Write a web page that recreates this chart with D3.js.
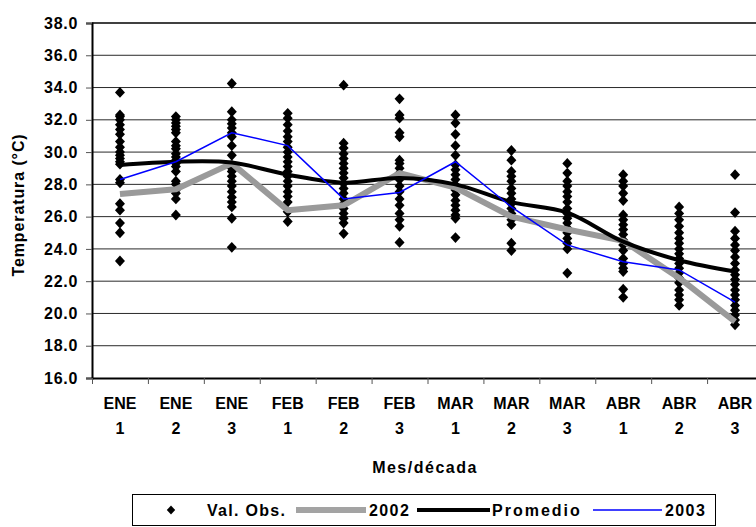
<!DOCTYPE html>
<html>
<head>
<meta charset="utf-8">
<script src="https://cdn.jsdelivr.net/npm/d3@7"></script>
<style>
  html, body { margin: 0; padding: 0; background: #fff; }
  svg { display: block; font-family: "Liberation Sans", Arial, sans-serif; font-weight: bold; }
</style>
</head>
<body>
<svg id="chart" width="756" height="527"></svg>
<script>
// Ten-day periods (month / décade)
const months = ["ENE", "ENE", "ENE", "FEB", "FEB", "FEB", "MAR", "MAR", "MAR", "ABR", "ABR", "ABR"];
const decades = ["1", "2", "3", "1", "2", "3", "1", "2", "3", "1", "2", "3"];

// Mean temperature per period, °C
const serie2002 = [27.4, 27.7, 29.3, 26.4, 26.7, 28.7, 27.8, 26.0, 25.2, 24.5, 22.2, 19.5];
const promedio = [29.2, 29.4, 29.35, 28.6, 28.1, 28.4, 28.0, 26.9, 26.25, 24.45, 23.3, 22.6];
const serie2003 = [28.3, 29.4, 31.2, 30.4, 27.1, 27.5, 29.4, 26.6, 24.25, 23.2, 22.7, 20.7];

// Observed values (all years) per period, °C
const valObs = [
  [33.7, 32.3, 32.2, 32.0, 31.7, 31.4, 31.1, 30.65, 30.3, 30.0, 29.8, 29.6, 29.4, 29.25, 28.3, 28.1, 26.8, 26.4, 25.6, 25.0, 23.25],
  [32.2, 32.0, 31.8, 31.6, 31.4, 31.2, 30.65, 30.4, 30.2, 29.9, 29.7, 29.5, 29.3, 29.1, 28.8, 28.2, 28.0, 27.65, 27.45, 27.1, 26.1],
  [34.25, 32.5, 32.0, 31.75, 31.5, 31.2, 30.95, 30.4, 29.8, 29.2, 29.0, 28.8, 28.5, 28.2, 27.9, 27.55, 27.2, 26.9, 26.6, 25.9, 24.1],
  [32.4, 32.1, 31.7, 31.3, 30.95, 30.65, 30.3, 30.0, 29.7, 29.4, 29.1, 28.8, 28.5, 28.2, 27.9, 27.55, 27.25, 26.9, 26.3, 25.7],
  [34.15, 30.55, 30.25, 29.9, 29.6, 29.3, 29.0, 28.7, 28.4, 28.05, 27.75, 27.45, 27.1, 26.8, 26.5, 26.2, 25.9, 25.6, 24.95],
  [33.3, 32.3, 32.1, 31.2, 30.95, 29.5, 29.3, 29.0, 28.7, 28.3, 27.9, 27.55, 27.1, 26.7, 26.2, 25.8, 25.4, 24.4],
  [32.3, 31.8, 31.1, 30.4, 29.8, 29.2, 28.9, 28.6, 28.3, 27.95, 27.65, 27.35, 27.0, 26.7, 26.4, 26.1, 25.9, 24.7],
  [30.1, 29.5, 28.8, 28.5, 28.2, 27.75, 27.45, 27.1, 26.8, 26.5, 26.2, 25.8, 25.5, 24.35, 23.9],
  [29.3, 28.7, 28.2, 27.9, 27.55, 27.25, 26.9, 26.5, 26.2, 25.9, 25.6, 25.3, 25.0, 24.65, 24.35, 24.0, 22.5],
  [28.6, 28.2, 27.9, 27.45, 27.0, 26.1, 25.8, 25.5, 25.2, 24.9, 24.55, 24.25, 23.9, 23.4, 23.1, 22.8, 22.6, 21.5, 21.0],
  [26.6, 26.2, 25.8, 25.4, 25.0, 24.65, 24.35, 24.0, 23.7, 23.4, 23.1, 22.8, 22.5, 22.2, 21.9, 21.45, 21.15, 20.85, 20.5],
  [28.6, 26.25, 25.1, 24.65, 24.25, 23.9, 23.5, 23.1, 22.7, 22.4, 22.1, 21.8, 21.45, 21.15, 20.85, 20.5, 20.2, 19.9, 19.6, 19.3]
];

const yTicks = [16, 18, 20, 22, 24, 26, 28, 30, 32, 34, 36, 38];

const svg = d3.select("#chart");
const W = 756;
const plot = { left: 92, right: 763, top: 23, bottom: 378 };
const keys = months.map((m, i) => i);

const x = d3.scaleBand().domain(keys).range([plot.left, plot.right]).paddingInner(0).paddingOuter(0);
const xEdge = d3.scaleLinear().domain([0, keys.length]).range([plot.left, plot.right]);
const y = d3.scaleLinear().domain([16, 38]).range([plot.bottom, plot.top]);
const cx = i => x(i) + x.bandwidth() / 2;

// Horizontal gridlines
svg.append("g")
  .selectAll("line")
  .data(yTicks.filter(t => t > 16))
  .join("line")
  .attr("x1", plot.left).attr("x2", W)
  .attr("y1", d => y(d)).attr("y2", d => y(d))
  .attr("stroke", d => d === 38 ? "#000" : "#2a2a2a")
  .attr("stroke-width", d => d === 38 ? 1.6 : 1);

// Y axis
const yAxis = svg.append("g")
  .attr("transform", `translate(${plot.left},0)`)
  .call(d3.axisLeft(y).tickValues(yTicks).tickFormat(d3.format(".1f")).tickSize(6).tickPadding(8));
yAxis.select(".domain").attr("stroke", "#000").attr("stroke-width", 2);
yAxis.selectAll(".tick line").attr("stroke", "#555");
yAxis.selectAll(".tick text")
  .attr("font-family", "Liberation Sans, Arial, sans-serif")
  .attr("font-weight", "bold").attr("font-size", 16)
  .attr("letter-spacing", 0.7).attr("fill", "#000");

// X axis: tick marks at period boundaries
const xTickAxis = svg.append("g")
  .attr("transform", `translate(0,${plot.bottom})`)
  .call(d3.axisBottom(xEdge).tickValues(d3.range(0, keys.length + 1)).tickFormat("").tickSize(6).tickSizeOuter(0));
xTickAxis.select(".domain").attr("stroke", "#000").attr("stroke-width", 2.2);
xTickAxis.selectAll(".tick line").attr("stroke", "#555");

// X axis labels: month over décade
const xLab = svg.append("g")
  .selectAll("text")
  .data(keys)
  .join("text")
  .attr("x", d => cx(d))
  .attr("text-anchor", "middle")
  .attr("font-size", 16)
  .attr("fill", "#000");
xLab.append("tspan").attr("x", d => cx(d)).attr("y", 409).text(d => months[d]);
xLab.append("tspan").attr("x", d => cx(d)).attr("y", 434).text(d => decades[d]);

// Axis titles
svg.append("text")
  .attr("x", 425).attr("y", 473)
  .attr("text-anchor", "middle")
  .attr("font-size", 16)
  .attr("letter-spacing", 1.5)
  .text("Mes/década");
svg.append("text")
  .attr("transform", "translate(24,205) rotate(-90)")
  .attr("text-anchor", "middle")
  .attr("font-size", 16)
  .attr("letter-spacing", 0.9)
  .text("Temperatura (°C)");

// Observed values as diamonds
const diamond = "M0,-5.4L5,0L0,5.4L-5,0Z";
const obsPoints = valObs.flatMap((vals, i) => vals.map(v => ({ i, v })));
svg.append("g")
  .selectAll("path")
  .data(obsPoints)
  .join("path")
  .attr("d", diamond)
  .attr("transform", d => `translate(${cx(d.i)},${y(d.v)})`)
  .attr("fill", "#000");

// Series lines
const straight = d3.line().x((d, i) => cx(i)).y(d => y(d));
const smooth = d3.line().x((d, i) => cx(i)).y(d => y(d)).curve(d3.curveCatmullRom.alpha(0.5));

svg.append("path").datum(serie2002)
  .attr("d", straight).attr("fill", "none")
  .attr("stroke", "#9a9a9a").attr("stroke-width", 6).attr("stroke-linejoin", "round");
svg.append("path").datum(promedio)
  .attr("d", smooth).attr("fill", "none")
  .attr("stroke", "#000").attr("stroke-width", 4).attr("stroke-linejoin", "round");
svg.append("path").datum(serie2003)
  .attr("d", straight).attr("fill", "none")
  .attr("stroke", "#0000ff").attr("stroke-width", 1.5);

// Legend
const lg = svg.append("g");
lg.append("rect")
  .attr("x", 132.5).attr("y", 494.5).attr("width", 583).attr("height", 31)
  .attr("fill", "#fff").attr("stroke", "#000").attr("stroke-width", 1);
const ly = 510;
lg.append("path").attr("d", "M0,-4.6L4.2,0L0,4.6L-4.2,0Z").attr("transform", `translate(171,${ly})`).attr("fill", "#000");
const legendItems = [
  { label: "Val. Obs.", tx: 207, ls: 1.3 },
  { label: "2002", tx: 369, ls: 1.4, line: [296, 366], stroke: "#a3a3a3", w: 6 },
  { label: "Promedio", tx: 492, ls: 2, line: [417, 490], stroke: "#000", w: 4 },
  { label: "2003", tx: 665, ls: 1.4, line: [593, 662], stroke: "#0000ff", w: 1.5 }
];
legendItems.forEach(it => {
  if (it.line) {
    lg.append("line")
      .attr("x1", it.line[0]).attr("x2", it.line[1])
      .attr("y1", ly).attr("y2", ly)
      .attr("stroke", it.stroke).attr("stroke-width", it.w);
  }
  lg.append("text")
    .attr("x", it.tx).attr("y", ly + 6)
    .attr("font-size", 16)
    .attr("letter-spacing", it.ls)
    .text(it.label);
});
</script>
</body>
</html>
